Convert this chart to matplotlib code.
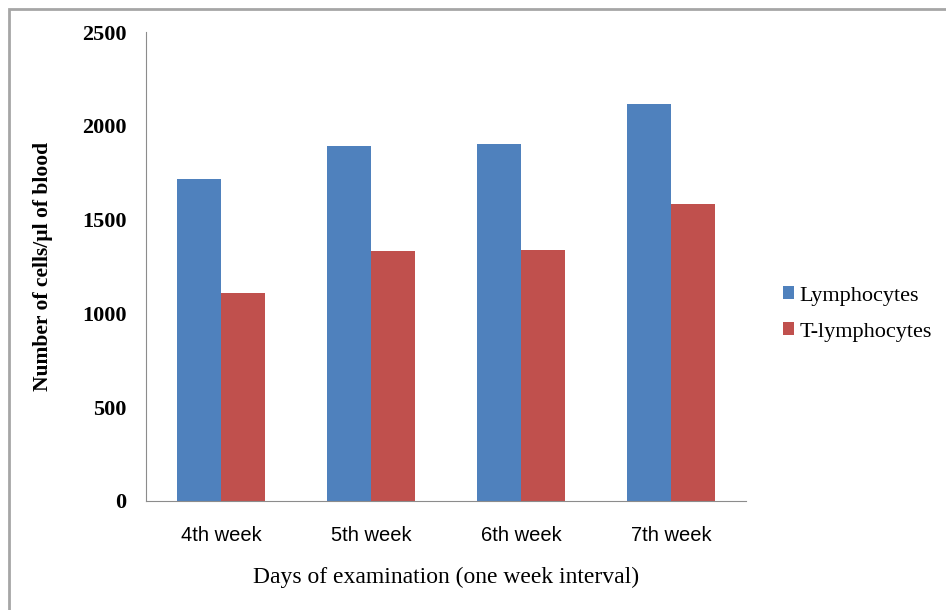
import numpy as np
import matplotlib
matplotlib.use("Agg")
from matplotlib import pyplot as plt
from matplotlib.patches import Rectangle

weeks = ["4th week", "5th week", "6th week", "7th week"]
lymphocytes = [1716, 1892, 1903, 2116]
t_lymphocytes = [1109, 1333, 1338, 1583]
yticks = [0, 500, 1000, 1500, 2000, 2500]

W, H = 946, 610
fig = plt.figure(figsize=(W / 100, H / 100), dpi=100)
ax = fig.add_axes([146 / W, (H - 501) / H, 600 / W, 469 / H])

x = np.arange(len(weeks))
bw = 0.293
ax.bar(x - bw / 2, lymphocytes, bw, color="#4f81bd", label="Lymphocytes")
ax.bar(x + bw / 2, t_lymphocytes, bw, color="#c0504d", label="T-lymphocytes")

ax.set_xlim(-0.5, len(weeks) - 0.5)
ax.set_ylim(0, 2500)
ax.set_yticks(yticks)
ax.set_yticklabels([str(v) for v in yticks], fontfamily="Liberation Serif",
                   fontweight="bold", fontsize=16)
ax.set_xticks(x)
ax.set_xticklabels(weeks, fontfamily="Liberation Sans", fontsize=14.5)
ax.tick_params(length=0)
ax.tick_params(axis="y", pad=14)
ax.tick_params(axis="x", pad=18)

for s in ["top", "right"]:
    ax.spines[s].set_visible(False)
ax.spines["left"].set_color("#8c8c8c")
ax.spines["bottom"].set_color("#8c8c8c")

ax.set_ylabel("Number of cells/µl of blood", fontfamily="Liberation Serif",
              fontweight="bold", fontsize=15.5)
ax.yaxis.set_label_coords((53 - 146) / 600, 0.5)
fig.text((146 + 300) / W, 1 - 577 / H, "Days of examination (one week interval)",
         ha="center", va="center", fontfamily="Liberation Serif", fontsize=17)

fig.legend(loc="center left", bbox_to_anchor=(783 / W, 1 - 314 / H),
           frameon=False, prop={"family": "Liberation Serif", "size": 16},
           handlelength=0.5, handleheight=0.5, handletextpad=0.25,
           labelspacing=0.75, borderpad=0, borderaxespad=0)

fig.patches.append(Rectangle((9 / W, -0.1), 1.2, 1 - 9 / H + 0.1,
                             transform=fig.transFigure, fill=False,
                             edgecolor="#a6a6a6", linewidth=2))

fig.savefig("out.png", dpi=100)
